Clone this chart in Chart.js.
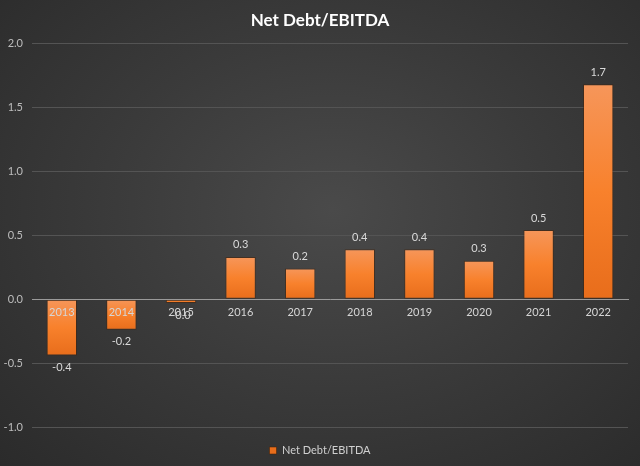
<!DOCTYPE html>
<html>
<head>
<meta charset="utf-8">
<script src="https://cdn.jsdelivr.net/npm/chart.js@4.4.0/dist/chart.umd.min.js"></script>
<style>
html,body{margin:0;padding:0;}
body{width:640px;height:466px;overflow:hidden;
background: radial-gradient(ellipse 75% 80% at 52% 45%, #4a4a4a 0%, #3b3b3b 45%, #2a2a2a 100%);}
#wrap{position:relative;width:640px;height:466px;}
</style>
</head>
<body>
<div id="wrap"><canvas id="c" width="640" height="466"></canvas></div>
<script>
const categories = ['2013','2014','2015','2016','2017','2018','2019','2020','2021','2022'];
const netDebtEbitda = [-0.44, -0.24, -0.03, 0.33, 0.24, 0.39, 0.39, 0.30, 0.54, 1.68];
const seriesName = 'Net Debt/EBITDA';
const yTicks = [-1.0, -0.5, 0.0, 0.5, 1.0, 1.5, 2.0];

const FONT = 'Lato, "Open Sans", sans-serif';

function barFill(ctx) {
  const chart = ctx.chart;
  if (!chart.chartArea || ctx.raw === undefined) return '#f47f2a';
  const ys = chart.scales.y;
  const v = ctx.raw;
  const top = ys.getPixelForValue(Math.max(v, 0));
  const bot = ys.getPixelForValue(Math.min(v, 0));
  if (!isFinite(top) || !isFinite(bot) || Math.abs(bot - top) < 1) return '#f47f2a';
  const g = chart.ctx.createLinearGradient(0, top, 0, bot);
  g.addColorStop(0, '#f6965a');
  g.addColorStop(0.5, '#f8812c');
  g.addColorStop(1, '#e86d1b');
  return g;
}

const valueLabels = {
  id: 'valueLabels',
  afterDatasetsDraw(chart) {
    const ctx = chart.ctx;
    const meta = chart.getDatasetMeta(0);
    ctx.save();
    ctx.font = '11px ' + FONT;
    ctx.fillStyle = '#d9d9d9';
    ctx.textAlign = 'center';
    ctx.textBaseline = 'middle';
    meta.data.forEach((bar, i) => {
      const v = chart.data.datasets[0].data[i];
      const y = v >= 0 ? bar.y - 12 : bar.y + 12;
      ctx.fillText(v.toFixed(1), bar.x, y);
    });
    ctx.restore();
  }
};

new Chart(document.getElementById('c'), {
  type: 'bar',
  data: {
    labels: categories,
    datasets: [{
      label: seriesName,
      data: netDebtEbitda,
      backgroundColor: barFill,
      borderColor: 'rgba(70,35,10,0.55)',
      borderWidth: 1,
      borderSkipped: false,
      barPercentage: 0.51,
      categoryPercentage: 1.0
    }]
  },
  options: {
    responsive: false,
    animation: false,
    devicePixelRatio: 1,
    layout: { padding: { left: 0, right: 0, top: 4, bottom: 0 } },
    plugins: {
      title: {
        display: true,
        text: 'Net Debt/EBITDA',
        color: '#ffffff',
        font: { family: FONT, size: 17, weight: 'bold' },
        padding: { top: 6, bottom: 13 }
      },
      legend: {
        position: 'bottom',
        labels: {
          color: '#d0d0d0',
          font: { family: FONT, size: 11 },
          boxWidth: 7,
          boxHeight: 7,
          padding: 18
        }
      },
      tooltip: { enabled: false }
    },
    scales: {
      x: {
        position: { y: 0 },
        grid: { display: false, drawTicks: false },
        border: { display: true, color: '#9a9a9a', width: 1, z: 1 },
        ticks: { color: '#d6d6d6', font: { family: FONT, size: 11 }, padding: 7, z: 1 }
      },
      y: {
        min: -1.0,
        max: 2.0,
        afterBuildTicks(scale) { scale.ticks = yTicks.map(v => ({ value: v })); },
        afterFit(scale) { scale.width = 32; },
        grid: { color: '#545454', lineWidth: 1, drawTicks: false },
        border: { display: false },
        ticks: {
          color: '#bdbdbd',
          font: { family: FONT, size: 11 },
          padding: 9,
          callback: v => Number(v).toFixed(1)
        }
      },
      yRight: {
        position: 'right',
        min: -1.0,
        max: 2.0,
        afterFit(scale) { scale.width = 12; },
        grid: { display: false, drawTicks: false },
        border: { display: false },
        ticks: { display: false }
      }
    }
  },
  plugins: [valueLabels]
});
</script>
</body>
</html>
